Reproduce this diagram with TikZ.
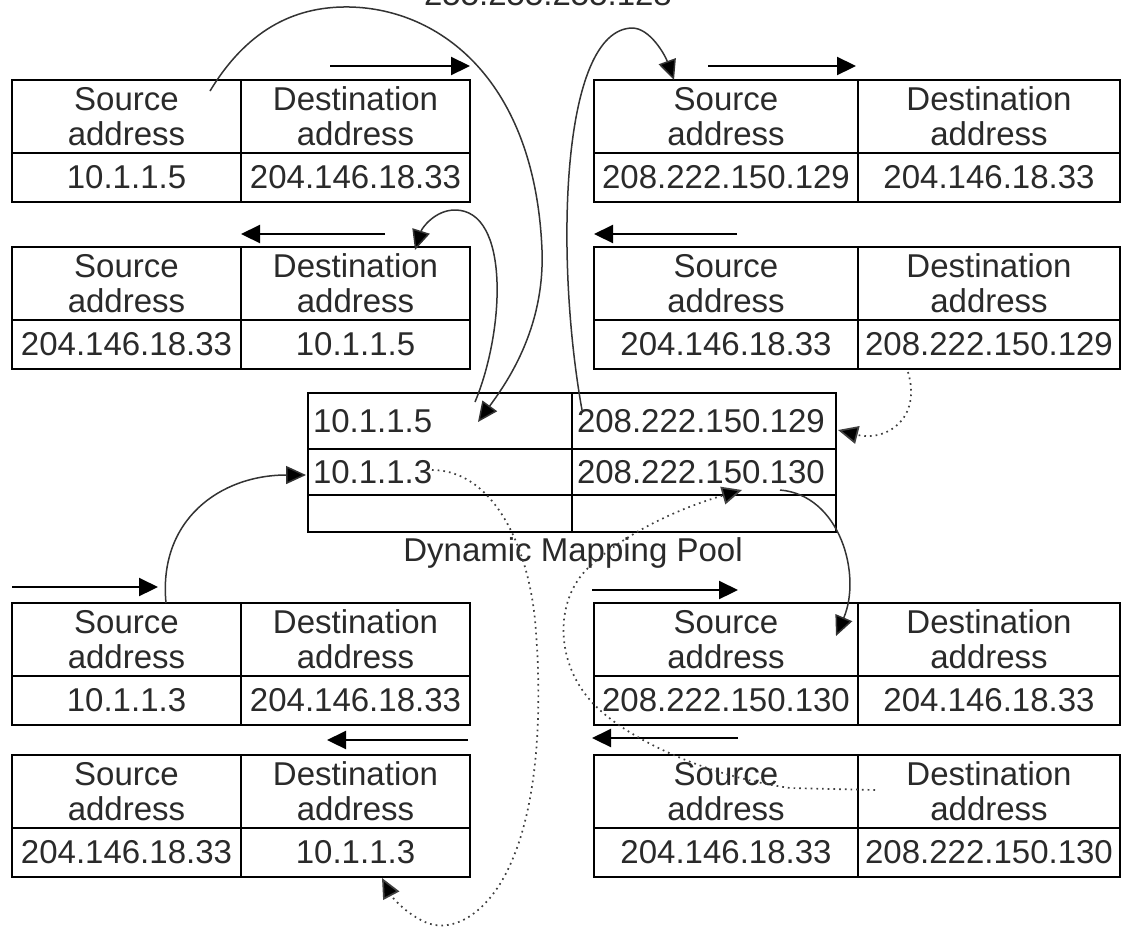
\documentclass[tikz,border=0pt]{standalone}
\usepackage{fontspec}
\setmainfont{Liberation Sans}
\usetikzlibrary{arrows.meta}
\definecolor{ink}{HTML}{2A2A2A}
\tikzset{
  txt/.style={text=ink, font=\fontsize{33}{35}\selectfont},
  cellbase/.style={txt, draw=black, line width=2.6pt, inner sep=0pt, outer sep=0pt, align=center},
  hcell/.style={cellbase, minimum height=73pt},
  dcell/.style={cellbase, minimum height=49pt},
  pcell/.style={cellbase, inner xsep=5pt, text width=254pt, align=left},
  harrow/.style={line width=2.2pt, -{Triangle[length=19pt,width=18pt]}},
  carrow/.style={line width=1.5pt, draw=black!80, -{Triangle[length=20pt,width=18pt,fill=black]}},
  darrow/.style={line width=1.7pt, draw=black!75, dash pattern=on 1.7pt off 4pt, -{Triangle[length=20pt,width=18pt,fill=black]}}
}
\newcommand\pkt[7]{%
  \node[hcell, minimum width=#4pt, anchor=north west] (#1hs) at (#2,#3) {Source\\address};
  \node[hcell, minimum width=#5pt, anchor=north west] (#1hd) at (#1hs.north east) {Destination\\address};
  \node[dcell, minimum width=#4pt, anchor=north west] (#1ds) at (#1hs.south west) {#6};
  \node[dcell, minimum width=#5pt, anchor=north west] (#1dd) at (#1hs.south east) {#7};
}
\begin{document}
\begin{tikzpicture}[x=1pt,y=-1pt]
\useasboundingbox (0,0) rectangle (1123,930);
\fill[white] (0,0) rectangle (1123,930);

% top label, cut off at the top edge as in the reference
\node[txt, anchor=base, inner sep=0pt] (mask) at (548,5) {255.255.255.128};

% packet tables
\pkt{A}{12}{80}{229}{229}{10.1.1.5}{204.146.18.33}
\pkt{B}{594}{80}{264}{262}{208.222.150.129}{204.146.18.33}
\pkt{C}{12}{247}{229}{229}{204.146.18.33}{10.1.1.5}
\pkt{D}{594}{247}{264}{262}{204.146.18.33}{208.222.150.129}
\pkt{E}{12}{603}{229}{229}{10.1.1.3}{204.146.18.33}
\pkt{F}{594}{603}{264}{262}{208.222.150.130}{204.146.18.33}
\pkt{G}{12}{755}{229}{229}{204.146.18.33}{10.1.1.3}
\pkt{H}{594}{755}{264}{262}{204.146.18.33}{208.222.150.130}

% dynamic mapping pool
\node[pcell, minimum height=56pt, anchor=north west] (p1l) at (308,393) {10.1.1.5};
\node[pcell, minimum height=56pt, anchor=north west] (p1r) at (p1l.north east) {208.222.150.129};
\node[pcell, minimum height=46pt, anchor=north west] (p2l) at (p1l.south west) {10.1.1.3};
\node[pcell, minimum height=46pt, anchor=north west] (p2r) at (p2l.north east) {208.222.150.130};
\node[pcell, minimum height=37pt, anchor=north west] (p3l) at (p2l.south west) {};
\node[pcell, minimum height=37pt, anchor=north west] (p3r) at (p3l.north east) {};
\node[txt, inner sep=0pt] (poollabel) at (573,553) {Dynamic Mapping Pool};

% horizontal direction arrows
\coordinate (a1) at (330,66);  \coordinate (a2) at (470,66);
\coordinate (b1) at (708,66);  \coordinate (b2) at (856,66);
\coordinate (c1) at (385,234); \coordinate (c2) at (241,234);
\coordinate (d1) at (737,234); \coordinate (d2) at (594,234);
\coordinate (e1) at (12,587);  \coordinate (e2) at (158,587);
\coordinate (f1) at (592,590); \coordinate (f2) at (738,590);
\coordinate (g1) at (468,740); \coordinate (g2) at (327,740);
\coordinate (h1) at (738,738); \coordinate (h2) at (592,738);
\draw[harrow] (a1) -- (a2);
\draw[harrow] (b1) -- (b2);
\draw[harrow] (c1) -- (c2);
\draw[harrow] (d1) -- (d2);
\draw[harrow] (e1) -- (e2);
\draw[harrow] (f1) -- (f2);
\draw[harrow] (g1) -- (g2);
\draw[harrow] (h1) -- (h2);

% curved connectors
\coordinate (k1s) at (210,91);  \coordinate (k1e) at (478,422);
\draw[carrow] (k1s) .. controls (250,25) and (300,6) .. (350,7)
   .. controls (440,9) and (535,80) .. (542,250)
   .. controls (545,330) and (505,385) .. (k1e);

\coordinate (k2s) at (475,402); \coordinate (k2e) at (415,250);
\draw[carrow] (k2s) .. controls (505,330) and (510,210) .. (455,210)
   .. controls (435,210) and (422,228) .. (k2e);

\coordinate (k3s) at (582,410); \coordinate (k3e) at (674,80);
\draw[carrow] (k3s) .. controls (555,260) and (560,30) .. (632,28)
   .. controls (650,28) and (665,55) .. (k3e);

\coordinate (k4s) at (908,372); \coordinate (k4e) at (838,430);
\draw[darrow] (k4s) .. controls (922,420) and (885,442) .. (k4e);

\coordinate (k5s) at (780,490); \coordinate (k5e) at (836,636);
\draw[carrow] (k5s) .. controls (840,495) and (862,575) .. (k5e);

\coordinate (k6s) at (875,790); \coordinate (k6e) at (742,490);
\draw[darrow] (k6s) -- (790,788)
   .. controls (700,775) and (620,735) .. (590,700)
   .. controls (555,660) and (555,600) .. (588,568)
   .. controls (630,528) and (690,505) .. (k6e);

\coordinate (k7s) at (432,470); \coordinate (k7e) at (382,878);
\draw[darrow] (k7s) .. controls (490,470) and (527,540) .. (535,620)
   .. controls (542,700) and (540,800) .. (510,865)
   .. controls (490,910) and (455,935) .. (425,922)
   .. controls (405,913) and (392,897) .. (k7e);

\coordinate (k8s) at (166,603); \coordinate (k8e) at (306,475);
\draw[carrow] (k8s) .. controls (158,520) and (220,475) .. (k8e);
\end{tikzpicture}
\end{document}
